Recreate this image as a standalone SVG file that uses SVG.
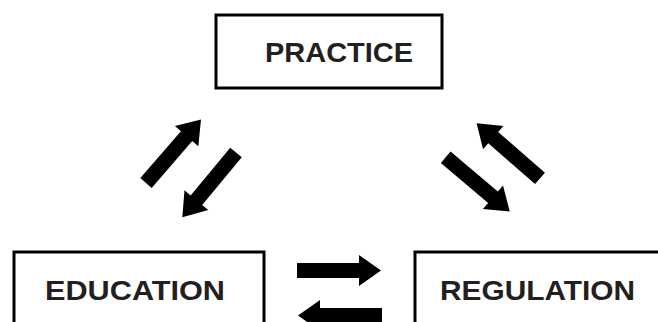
<svg xmlns="http://www.w3.org/2000/svg" xmlns:xlink="http://www.w3.org/1999/xlink" width="658" height="322" viewBox="0 0 658 322">
  <style>
    .box { fill: #ffffff; stroke: #000000; stroke-width: 3; }
    .label { font-family: "Liberation Sans", Arial, sans-serif; font-weight: 700; font-size: 28px; fill: #231f20; }
    .arrow { fill: #000000; }
  </style>
  <defs>
    <path id="arrow" d="M0,-7.5 H62 V-15.5 L84,0 L62,15.5 V7.5 H0 Z"/>
  </defs>
  <rect width="658" height="322" fill="#ffffff"/>
  <g id="practice">
    <rect class="box" x="216" y="15" width="226" height="73"/>
    <text class="label" x="265" y="62" textLength="148" lengthAdjust="spacingAndGlyphs">PRACTICE</text>
  </g>
  <g id="education">
    <rect class="box" x="14" y="252" width="250" height="90"/>
    <text class="label" x="45" y="300" textLength="180" lengthAdjust="spacingAndGlyphs">EDUCATION</text>
  </g>
  <g id="regulation">
    <rect class="box" x="415" y="252" width="260" height="90"/>
    <text class="label" x="440" y="300" textLength="195" lengthAdjust="spacingAndGlyphs">REGULATION</text>
  </g>
  <g id="connectors" class="arrow">
    <use xlink:href="#arrow" transform="translate(146,183) rotate(-49.1)"/>
    <use xlink:href="#arrow" transform="translate(236,152.5) rotate(129.7)"/>
    <use xlink:href="#arrow" transform="translate(540,178.3) rotate(-139)"/>
    <use xlink:href="#arrow" transform="translate(445.7,157.2) rotate(40.3)"/>
    <use xlink:href="#arrow" transform="translate(297,270.5)"/>
    <use xlink:href="#arrow" transform="translate(382,315.5) rotate(180)"/>
  </g>
</svg>
